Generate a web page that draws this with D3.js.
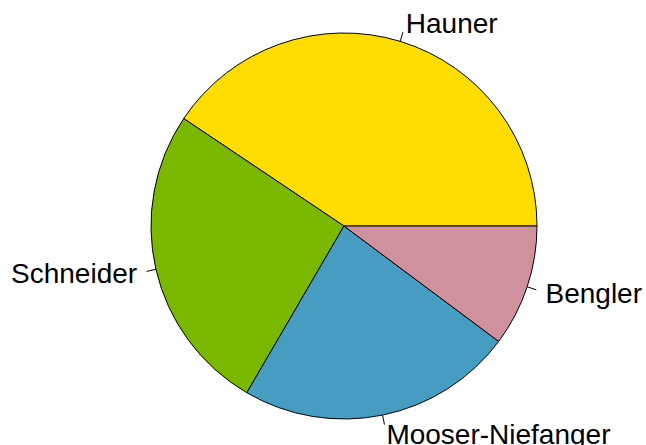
<!DOCTYPE html>
<html>
<head>
<meta charset="utf-8">
<script src="https://cdn.jsdelivr.net/npm/d3@7"></script>
<style>
  body { margin: 0; background: #fff; }
  text { font-family: "Liberation Sans", Arial, Helvetica, sans-serif; }
</style>
</head>
<body>
<script>
const names = ["Hauner", "Schneider", "Mooser-Niefanger", "Bengler"];
const shares = [40.6, 26.0, 23.2, 10.2];
const colours = ["#FFDD00", "#7AB800", "#479DC1", "#D0919F"];

const w = 646, h = 445;
const cx = 344, cy = 226, r = 193;

const svg = d3.select("body").append("svg").attr("width", w).attr("height", h);
const g = svg.append("g").attr("transform", "translate(" + cx + "," + cy + ")");

const colour = d3.scaleOrdinal().domain(names).range(colours);

// R style: start at 3 o'clock, go counter-clockwise
const pie = d3.pie().sort(null).value(d => d.v)
  .startAngle(Math.PI / 2).endAngle(Math.PI / 2 - 2 * Math.PI);
const arcs = pie(names.map((n, i) => ({ n: n, v: shares[i] })));

const arc = d3.arc().innerRadius(0).outerRadius(r);

g.selectAll("path.slice")
  .data(arcs)
  .enter()
    .append("path")
    .attr("class", "slice")
    .attr("d", arc)
    .attr("fill", d => colour(d.data.n))
    .attr("stroke", "#000")
    .attr("stroke-width", 1);

// mid angle in d3 terms (0 = up, clockwise)
const mid = d => (d.startAngle + d.endAngle) / 2;
const px = (a, k) => k * r * Math.sin(a);
const py = (a, k) => -k * r * Math.cos(a);

g.selectAll("line.tick")
  .data(arcs)
  .enter()
    .append("line")
    .attr("x1", d => px(mid(d), 1))
    .attr("y1", d => py(mid(d), 1))
    .attr("x2", d => px(mid(d), 1.05))
    .attr("y2", d => py(mid(d), 1.05))
    .attr("stroke", "#000")
    .attr("stroke-width", 1);

g.selectAll("text.lab")
  .data(arcs)
  .enter()
    .append("text")
    .attr("x", d => px(mid(d), 1.1))
    .attr("y", d => py(mid(d), 1.1))
    .attr("dy", "0.35em")
    .attr("text-anchor", d => Math.sin(mid(d)) < 0 ? "end" : "start")
    .attr("font-size", 28)
    .attr("fill", "#000")
    .text(d => d.data.n);
</script>
</body>
</html>
